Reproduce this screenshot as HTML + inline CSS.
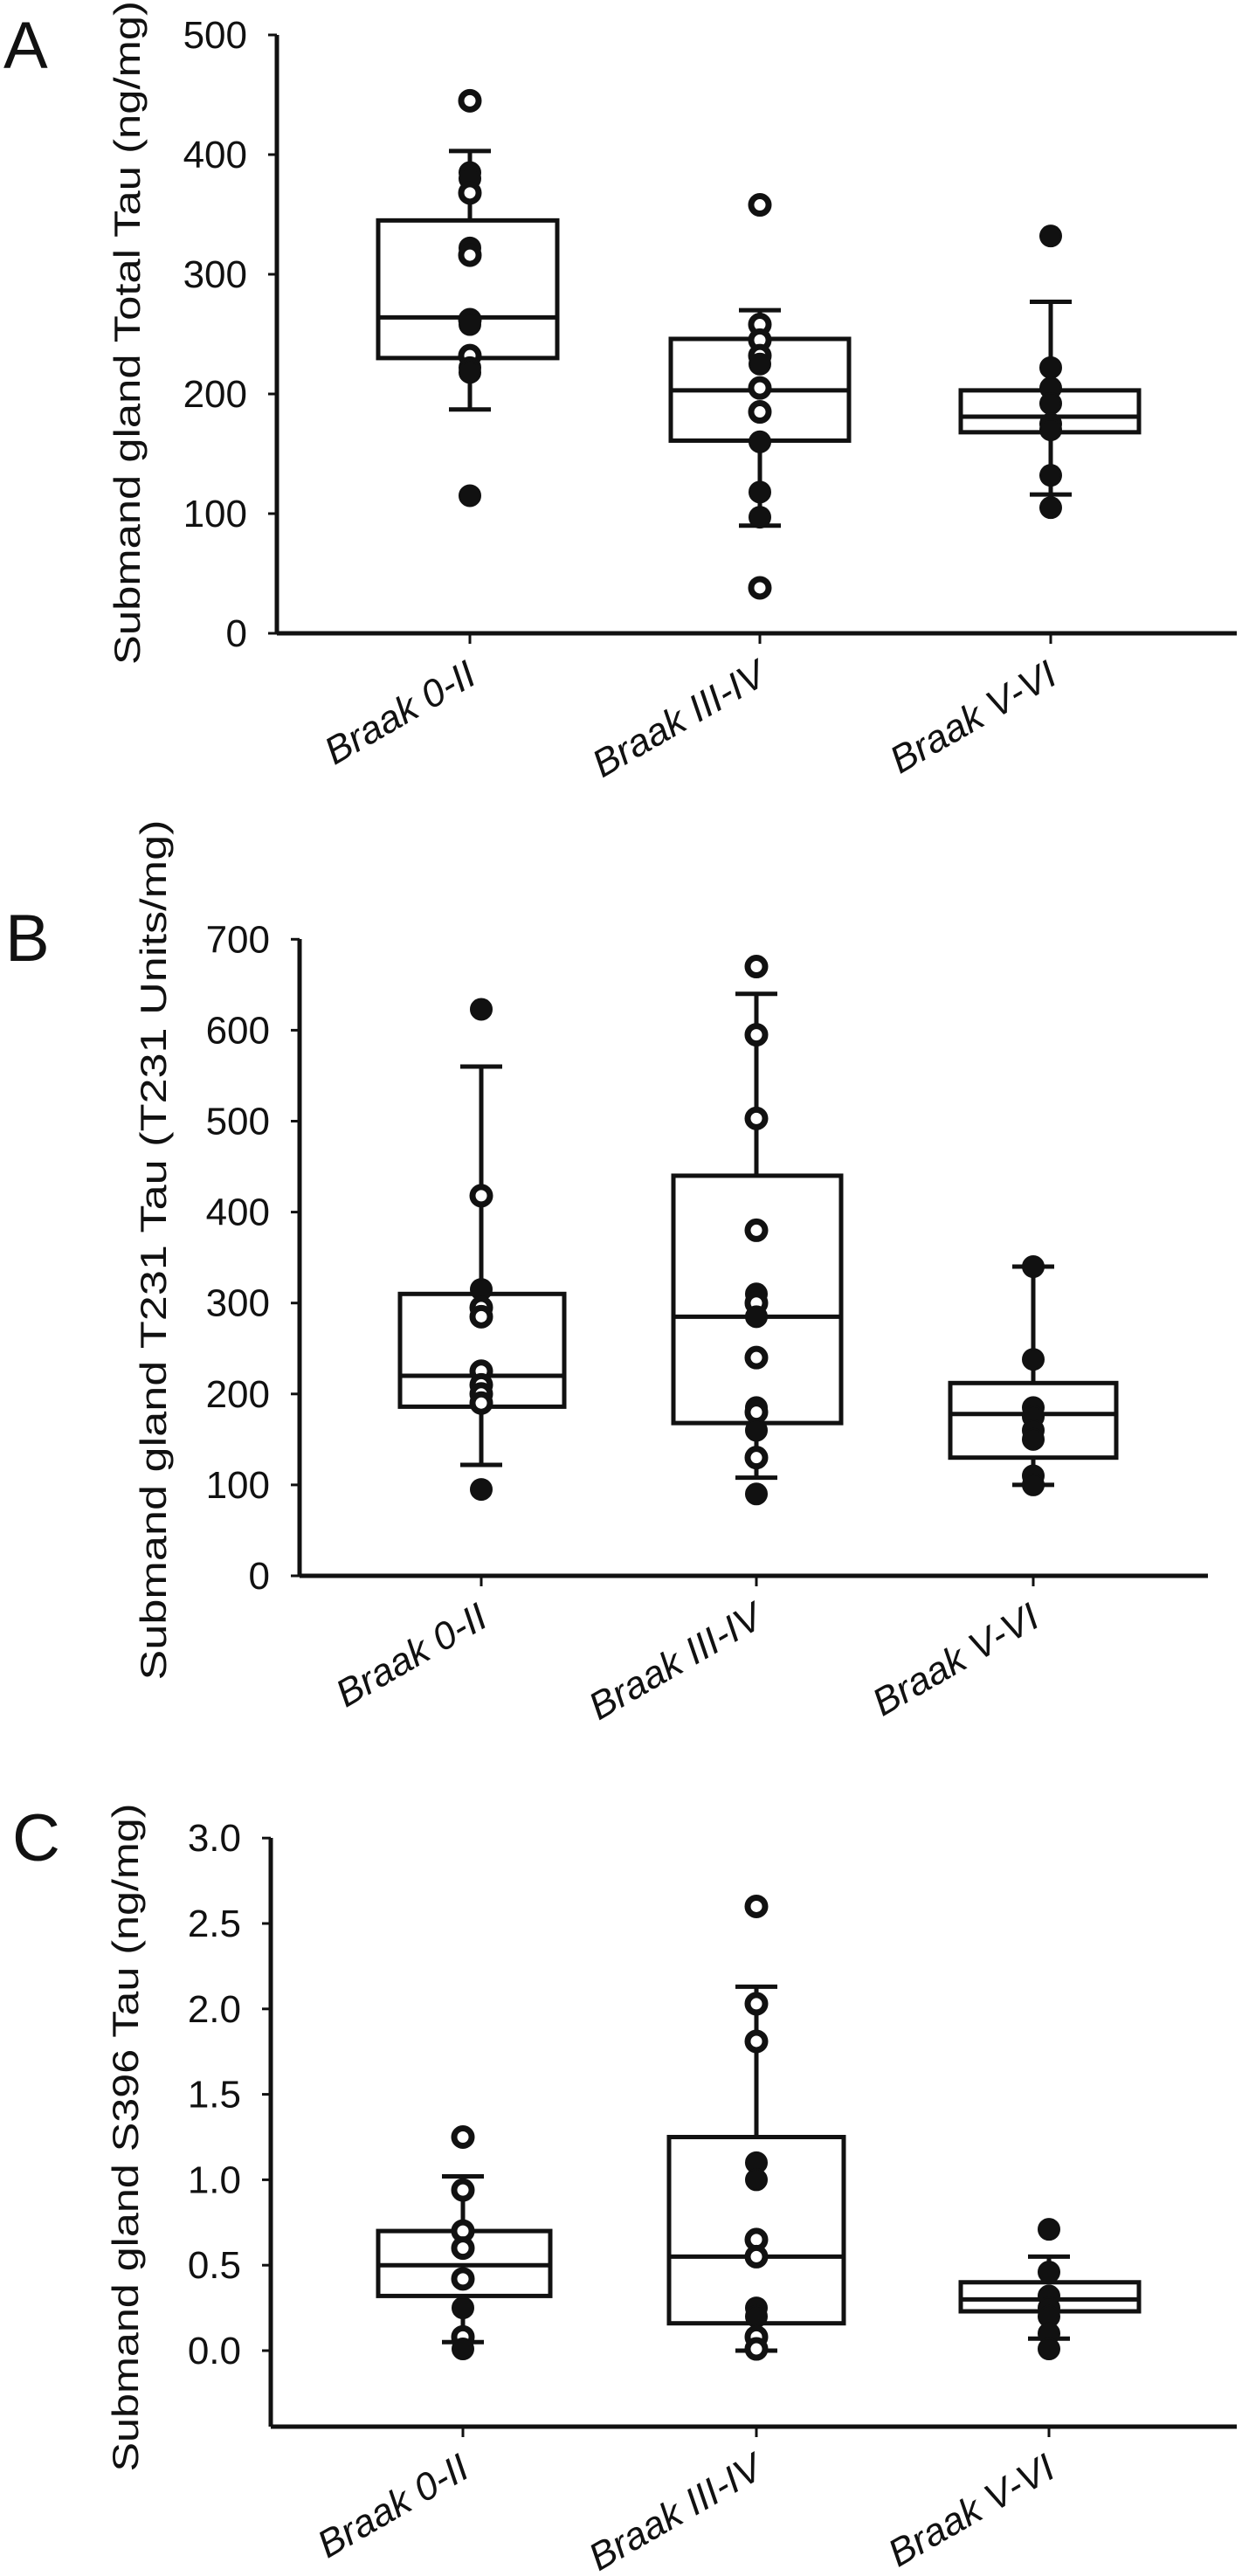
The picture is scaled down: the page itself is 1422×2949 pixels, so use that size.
<!DOCTYPE html>
<html><head><meta charset="utf-8">
<style>
html,body{margin:0;padding:0;background:#fff;}
svg{display:block;}
text{font-family:"Liberation Sans",sans-serif;fill:#111;}
</style></head>
<body>
<svg id="s" width="1422" height="2949" xmlns="http://www.w3.org/2000/svg"></svg>
<script>
const S=document.getElementById('s');let h='';
function panel(p){
 const y=v=>p.y0-(v-p.vmin)*p.k;
 h+=`<line x1="${p.ax}" y1="${p.top}" x2="${p.ax}" y2="${p.xAxisY}" stroke="#111" stroke-width="5"/>`;
 h+=`<line x1="${p.ax}" y1="${p.xAxisY}" x2="${p.axEnd}" y2="${p.xAxisY}" stroke="#111" stroke-width="5"/>`;
 p.ticks.forEach(t=>{const yy=y(t);
  h+=`<line x1="${p.ax-10}" y1="${yy}" x2="${p.ax}" y2="${yy}" stroke="#111" stroke-width="3"/>`;
  h+=`<text x="${p.ax-34}" y="${yy+15}" font-size="44" text-anchor="end">${p.fmt(t)}</text>`;});
 p.groups.forEach((g,i)=>{
  const gx=g.x;
  h+=`<line x1="${gx}" y1="${p.xAxisY}" x2="${gx}" y2="${p.xAxisY+12}" stroke="#111" stroke-width="3"/>`;
  h+=`<line x1="${gx}" y1="${y(g.w[0])}" x2="${gx}" y2="${y(g.w[1])}" stroke="#111" stroke-width="5"/>`;
  h+=`<line x1="${gx-24}" y1="${y(g.w[0])}" x2="${gx+24}" y2="${y(g.w[0])}" stroke="#111" stroke-width="5"/>`;
  h+=`<line x1="${gx-24}" y1="${y(g.w[1])}" x2="${gx+24}" y2="${y(g.w[1])}" stroke="#111" stroke-width="5"/>`;
  h+=`<rect x="${g.bx[0]}" y="${y(g.q[2])}" width="${g.bx[1]-g.bx[0]}" height="${y(g.q[0])-y(g.q[2])}" fill="#fff" stroke="#111" stroke-width="5"/>`;
  h+=`<line x1="${g.bx[0]}" y1="${y(g.q[1])}" x2="${g.bx[1]}" y2="${y(g.q[1])}" stroke="#111" stroke-width="5"/>`;
  g.pts.forEach(pt=>{const f=pt<0;const v=Math.abs(pt);
   h+=`<circle cx="${gx}" cy="${y(v)}" r="${f?12:10}" fill="${f?'#111':'#fff'}" stroke="#111" stroke-width="${f?2:7}"/>`;});
  h+=`<text transform="translate(${gx+10},${p.xAxisY+56}) rotate(-30)" font-size="44" font-style="italic" text-anchor="end">${g.label}</text>`;
 });
 h+=`<text transform="translate(${p.lx},${p.lcy}) rotate(-90)" font-size="42" text-anchor="middle" textLength="${p.llen}" lengthAdjust="spacingAndGlyphs">${p.title}</text>`;
 h+=`<text x="${p.Lx}" y="${p.Ly}" font-size="76">${p.L}</text>`;
}
const n=a=>-a;
panel({ax:317,axEnd:1416,top:40,xAxisY:725,y0:725,vmin:0,k:1.37,ticks:[0,100,200,300,400,500],fmt:t=>t,
 lx:160,lcy:381,llen:760,title:"Submand gland Total Tau (ng/mg)",L:"A",Lx:4,Ly:78,
 groups:[
 {x:538,label:"Braak 0-II",bx:[433,638],q:[230,264,345],w:[187,403],pts:[445,n(385),n(380),368,n(322),316,262,n(258),232,n(222),n(218),n(115)]},
 {x:870,label:"Braak III-IV",bx:[768,972],q:[161,203,246],w:[90,270],pts:[358,258,245,232,n(225),205,185,n(160),n(118),n(97),38]},
 {x:1203,label:"Braak V-VI",bx:[1100,1304],q:[168,181,203],w:[116,277],pts:[n(332),n(222),n(205),n(192),n(175),n(170),n(132),n(105)]}]});
panel({ax:343,axEnd:1383,top:1075,xAxisY:1804,y0:1804,vmin:0,k:1.041,ticks:[0,100,200,300,400,500,600,700],fmt:t=>t,
 lx:190,lcy:1431,llen:985,title:"Submand gland T231 Tau (T231 Units/mg)",L:"B",Lx:6,Ly:1100,
 groups:[
 {x:551,label:"Braak 0-II",bx:[458,646],q:[186,220,310],w:[122,560],pts:[n(623),418,n(315),295,285,225,210,200,190,n(95)]},
 {x:866,label:"Braak III-IV",bx:[771,963],q:[168,285,440],w:[108,640],pts:[670,595,503,380,n(310),300,n(285),240,n(185),180,n(160),130,n(90)]},
 {x:1183,label:"Braak V-VI",bx:[1088,1278],q:[130,178,212],w:[100,340],pts:[n(340),n(238),n(185),n(175),n(160),n(150),n(110),n(100)]}]});
panel({ax:310,axEnd:1416,top:2104,xAxisY:2778,y0:2691,vmin:0,k:195.6,ticks:[0,0.5,1,1.5,2,2.5,3],fmt:t=>t.toFixed(1),
 lx:158,lcy:2447,llen:765,title:"Submand gland S396 Tau (ng/mg)",L:"C",Lx:14,Ly:2130,
 groups:[
 {x:530,label:"Braak 0-II",bx:[433,630],q:[0.32,0.50,0.70],w:[0.05,1.02],pts:[1.25,0.94,0.70,0.60,0.42,n(0.25),0.08,n(0.01)]},
 {x:866,label:"Braak III-IV",bx:[766,966],q:[0.16,0.55,1.25],w:[0,2.13],pts:[2.6,2.03,1.81,n(1.1),n(1.0),0.65,0.55,n(0.25),n(0.2),0.08,0.01]},
 {x:1201,label:"Braak V-VI",bx:[1100,1304],q:[0.23,0.30,0.40],w:[0.07,0.55],pts:[n(0.71),n(0.46),n(0.32),n(0.25),n(0.2),n(0.1),n(0.01)]}]});
S.innerHTML=h;
</script>
</body></html>
